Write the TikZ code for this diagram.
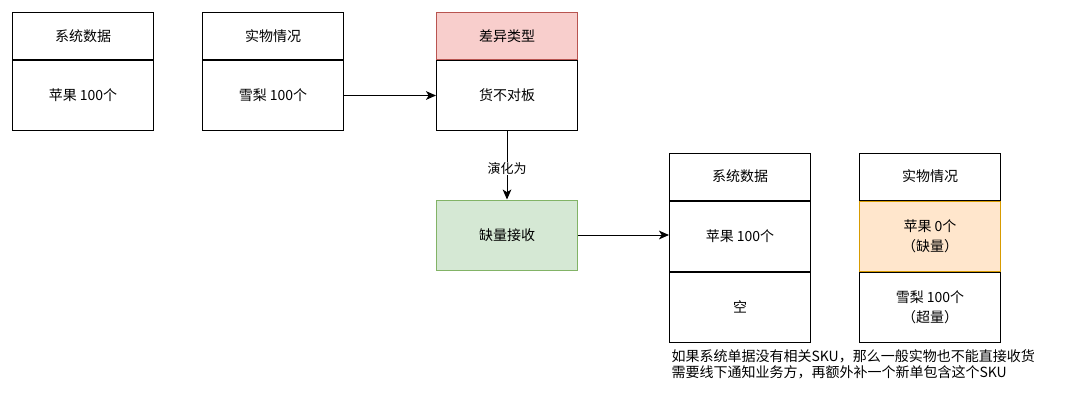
\documentclass[tikz,border=0pt]{standalone}
\usepackage{fontspec}
\setmainfont{Noto Sans CJK SC}
\usetikzlibrary{positioning,arrows.meta}
\definecolor{redfill}{HTML}{F8CECC}
\definecolor{redline}{HTML}{B85450}
\definecolor{greenfill}{HTML}{D5E8D4}
\definecolor{greenline}{HTML}{82B366}
\definecolor{orangefill}{HTML}{FFE6CC}
\definecolor{orangeline}{HTML}{D79B00}
\tikzset{node distance=0pt, auto,
  cell/.style={draw, line width=0.75pt, inner sep=0pt, align=center,
    minimum width=105.75pt, font=\fontsize{10.5}{15}\selectfont},
  head/.style={cell, minimum height=35.25pt},
  body/.style={cell, minimum height=52.5pt}}

\begin{document}
\begin{tikzpicture}[x=0.75pt, y=-0.75pt, >={Stealth[length=7.5pt,width=6.5pt,inset=2pt]}, line width=0.75pt]
  \useasboundingbox (0,0) rectangle (1080,400);

  \node (A) [head, anchor=north west] at (12,12) {系统数据};
  \node (A1) [body, below=of A] {苹果 100个};
  \node (B) [head, anchor=north west] at (202,12) {实物情况};
  \node (B1) [body, below=of B] {雪梨 100个};
  \node (C) [head, anchor=north west, fill=redfill, draw=redline] at (436,12) {差异类型};
  \node (C1) [body, below=of C] {货不对板};

  \node (G) [body, anchor=north west, fill=greenfill, draw=greenline] at (436,199.5) {缺量接收};

  \node (D) [head, anchor=north west] at (669,152.5) {系统数据};
  \node (D1) [body, below=of D] {苹果 100个};
  \node (D2) [body, below=of D1] {空};
  \node (E) [head, anchor=north west] at (859,152.5) {实物情况};
  \node (E1) [body, below=of E, fill=orangefill, draw=orangeline] {苹果 0个\\（缺量）};
  \node (E2) [body, below=of E1] {雪梨 100个\\（超量）};

  \node (N) [anchor=west, align=left, inner sep=0pt,
    font=\fontsize{10.5}{11.75}\selectfont] at (671,364.5)
    {如果系统单据没有相关SKU，那么一般实物也不能直接收货\\需要线下通知业务方，再额外补一个新单包含这个SKU};

  \draw[->](B1) to (C1);
  \draw[->](C1) to node [auto=false, fill=white, inner sep=0.5pt, font=\fontsize{9.75}{11}\selectfont, pos=0.55] {演化为} (G);
  \draw[->](G.east) to (G.east -| D1.west);
\end{tikzpicture}
\end{document}
